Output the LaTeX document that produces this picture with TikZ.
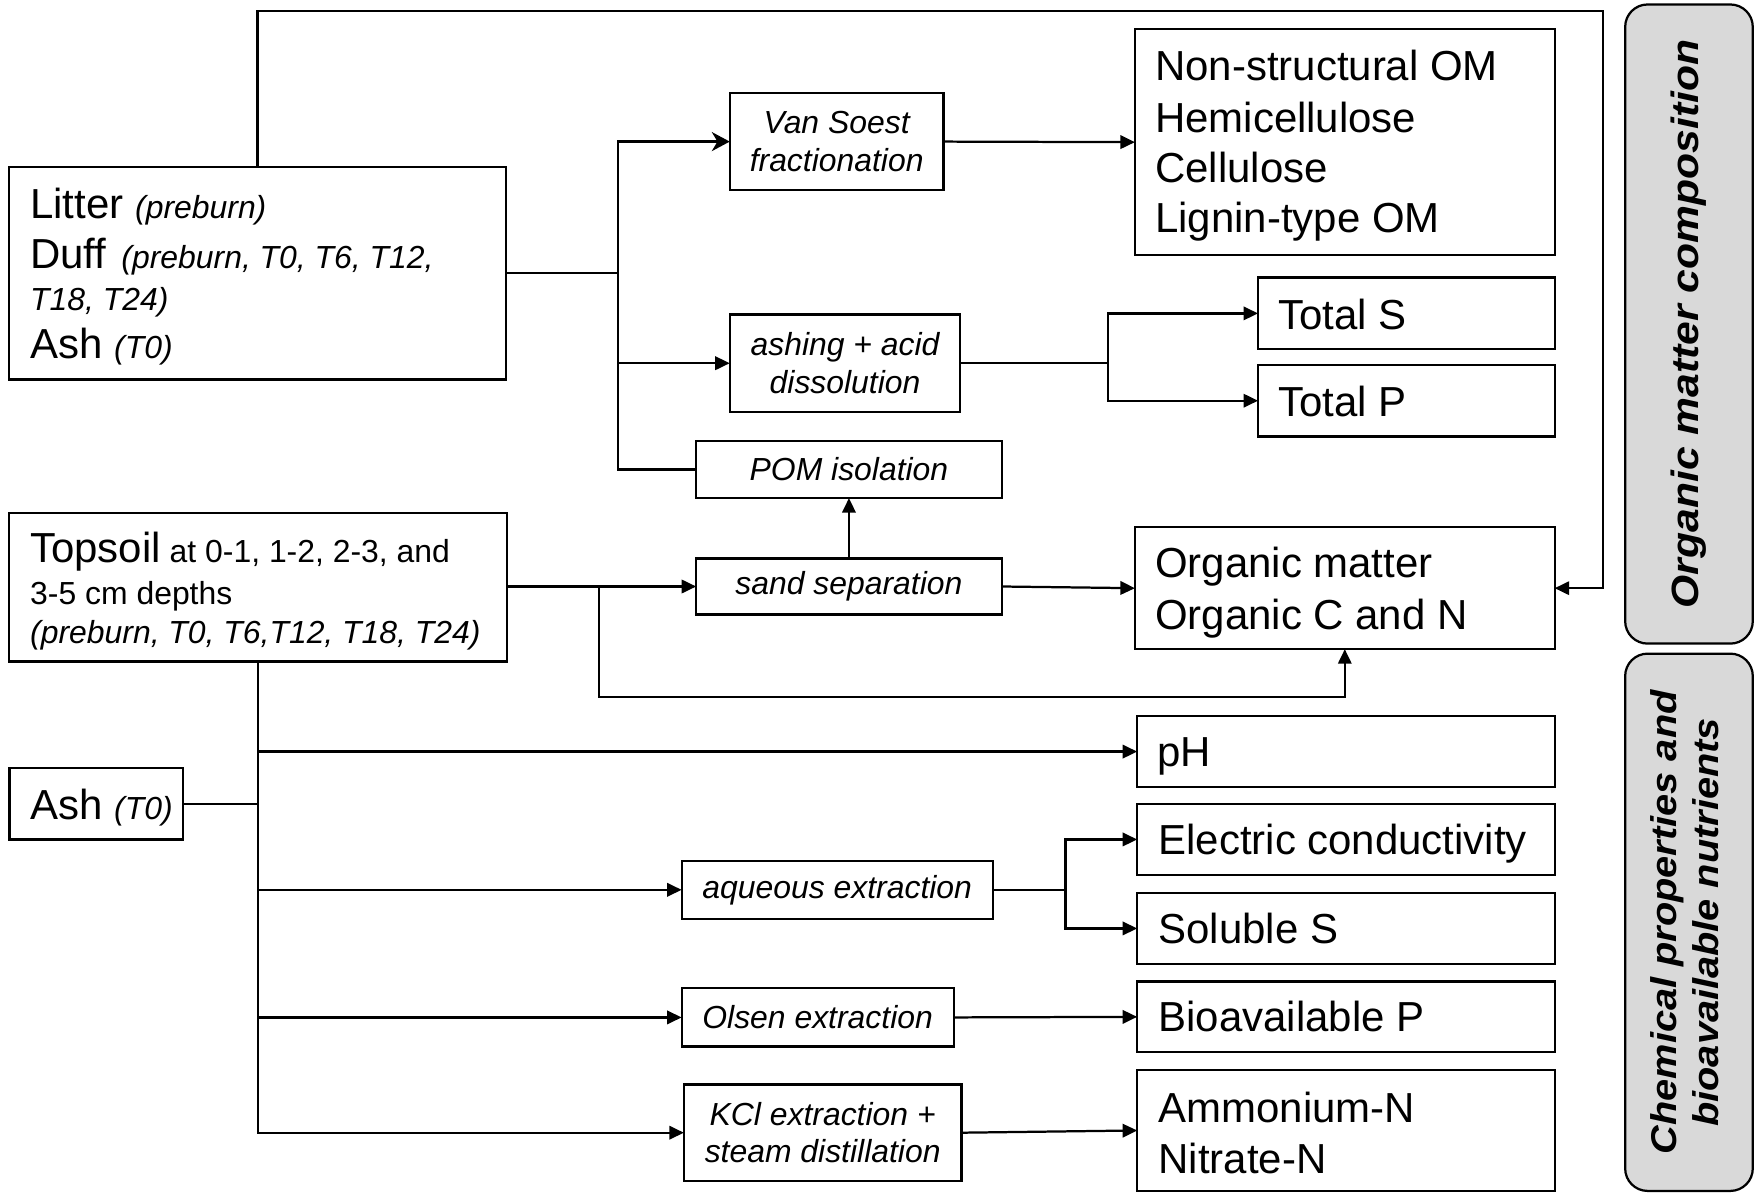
\documentclass[tikz,border=0pt]{standalone}
\usepackage{fontspec}
\setmainfont{Liberation Sans}
\usetikzlibrary{arrows.meta}
\newcommand{\BigT}{\fontsize{37.5}{45}\selectfont}
\newcommand{\SmT}{\fontsize{28.5}{33.5}\selectfont}
\definecolor{labelgray}{HTML}{D9D9D9}
\begin{document}
\begin{tikzpicture}[x=1pt,y=-1pt,line width=2pt,
  box/.style={draw,line width=2pt,rectangle,inner sep=0pt,outer sep=0pt},
  proc/.style={box,align=center,font=\SmT\itshape},
  txt/.style={anchor=base west,inner sep=0pt,outer sep=0pt},
  arr/.style={-{Triangle[length=13pt,width=12pt]}},
  bigarr/.style={-{Stealth[length=16pt,width=17pt,inset=5pt]}},
  tag/.style={draw,line width=2pt,fill=labelgray,rounded corners=20pt,inner sep=0pt,minimum width=114pt,font=\bfseries\itshape}]
\useasboundingbox (0,0) rectangle (1568,1066);

% ---------- source boxes ----------
\node[box,minimum width=444pt,minimum height=190pt] (litter) at (230,244) {};
\node[txt] (lit1) at (27,195) {\BigT Litter \SmT\itshape(preburn)};
\node[txt] (lit2) at (27,240) {\BigT Duff \hspace{3pt}\SmT\itshape(preburn, T0, T6, T12,};
\node[txt] (lit3) at (27,277) {\SmT\itshape T18, T24)};
\node[txt] (lit4) at (27,320) {\BigT Ash \SmT\itshape(T0)};

\node[box,minimum width=445pt,minimum height=133pt] (topsoil) at (230.5,524.5) {};
\node[txt] (top1) at (27,503) {{\BigT Topsoil}{\SmT\ at 0-1, 1-2, 2-3, and}};
\node[txt] (top2) at (27,540) {\SmT 3-5 cm depths};
\node[txt] (top3) at (27,575) {\SmT\itshape(preburn, T0, T6,T12, T18, T24)};

\node[box,minimum width=155pt,minimum height=64pt] (ash) at (86,718) {};
\node[txt] (ash1) at (27,732) {\BigT Ash \SmT\itshape(T0)};

% ---------- process boxes ----------
\node[proc,minimum width=191pt,minimum height=87pt] (vansoest) at (747.5,126.5) {Van Soest\\fractionation};
\node[proc,minimum width=206pt,minimum height=87pt] (ashing) at (755,324.5) {ashing + acid\\dissolution};
\node[proc,minimum width=273pt,minimum height=51pt] (pom) at (758.5,419.5) {POM isolation};
\node[proc,minimum width=273pt,minimum height=50pt] (sand) at (758.5,524) {sand separation};
\node[proc,minimum width=278pt,minimum height=52pt] (aqueous) at (748,795) {aqueous extraction};
\node[proc,minimum width=243pt,minimum height=52pt] (olsen) at (730.5,909) {Olsen extraction};
\node[proc,minimum width=248pt,minimum height=86pt] (kcl) at (735,1012) {KCl extraction +\\steam distillation};

% ---------- result boxes ----------
\node[box,minimum width=375pt,minimum height=202pt] (ns) at (1201.5,127) {};
\node[txt] (ns1) at (1032,72) {\BigT Non-structural OM};
\node[txt] (ns2) at (1032,118) {\BigT Hemicellulose};
\node[txt] (ns3) at (1032,163) {\BigT Cellulose};
\node[txt] (ns4) at (1032,208) {\BigT Lignin-type OM};

\node[box,minimum width=265pt,minimum height=64pt] (totals) at (1256.5,280) {};
\node[txt] (totals1) at (1142,294) {\BigT Total S};
\node[box,minimum width=265pt,minimum height=64pt] (totalp) at (1256.5,358) {};
\node[txt] (totalp1) at (1142,372) {\BigT Total P};

\node[box,minimum width=375pt,minimum height=109pt] (om) at (1201.5,525.5) {};
\node[txt] (om1) at (1032,516) {\BigT Organic matter};
\node[txt] (om2) at (1032,562) {\BigT Organic C and N};

\node[box,minimum width=373pt,minimum height=63pt] (ph) at (1202.5,671.5) {};
\node[txt] (ph1) at (1034,685) {\BigT pH};
\node[box,minimum width=373pt,minimum height=64pt] (ec) at (1202.5,750) {};
\node[txt] (ec1) at (1035,763.5) {\BigT Electric conductivity};
\node[box,minimum width=373pt,minimum height=63pt] (sols) at (1202.5,829.5) {};
\node[txt] (sols1) at (1035,843) {\BigT Soluble S};
\node[box,minimum width=373pt,minimum height=63pt] (biop) at (1202.5,908.5) {};
\node[txt] (biop1) at (1035,922) {\BigT Bioavailable P};
\node[box,minimum width=373pt,minimum height=108pt] (amm) at (1202.5,1010) {};
\node[txt] (amm1) at (1035,1003) {\BigT Ammonium-N};
\node[txt] (amm2) at (1035,1048) {\BigT Nitrate-N};

% ---------- side tags ----------
\node[tag,minimum height=571pt] (omc) at (1509,289.5)
  {\fontsize{34}{38}\selectfont\rotatebox{90}{\scalebox{1.12}[1]{Organic matter composition}}};
\node[tag,minimum height=480pt] (chem) at (1509,824)
  {\fontsize{32}{38}\selectfont\rotatebox{90}{\scalebox{1.11}[1]{\begin{tabular}{@{}c@{}}Chemical properties and\\bioavailable nutrients\end{tabular}}}};

% ---------- connectors ----------
\coordinate (toploop) at (1432,9.5);
\draw[arr] (litter.north) |- (toploop) |- (om.east);

\coordinate (bus) at (552,244);
\draw (litter.east) -- (bus);
\draw[bigarr] (bus) |- (vansoest.west);
\draw[arr] (bus) |- (ashing.west);
\draw (bus) |- (pom.west);

\draw[arr] (vansoest.east) -- (ns.west);

\coordinate (asplit) at (990,324.5);
\draw (ashing.east) -- (asplit);
\draw[arr] (asplit) |- (totals.west);
\draw[arr] (asplit) |- (totalp.west);

\coordinate (tsplit) at (535,524);
\draw[arr] (topsoil.east |- tsplit) -- (sand.west);
\coordinate (omlow) at (1201.5,623);
\draw[arr] (tsplit) |- (omlow) -- (om.south);

\draw[arr] (sand.north) -- (pom.south);
\draw[arr] (sand.east) -- (om.west);

\draw[arr] (topsoil.south) |- (ph.west);
\draw[arr] (topsoil.south) |- (aqueous.west);
\draw[arr] (topsoil.south) |- (olsen.west);
\draw[arr] (topsoil.south) |- (kcl.west);
\draw (ash.east) -- (ash.east -| topsoil.south);

\coordinate (qsplit) at (952,795);
\draw (aqueous.east) -- (qsplit);
\draw[arr] (qsplit) |- (ec.west);
\draw[arr] (qsplit) |- (sols.west);

\draw[arr] (olsen.east) -- (biop.west);
\draw[arr] (kcl.east) -- (amm.west);
\end{tikzpicture}
\end{document}
